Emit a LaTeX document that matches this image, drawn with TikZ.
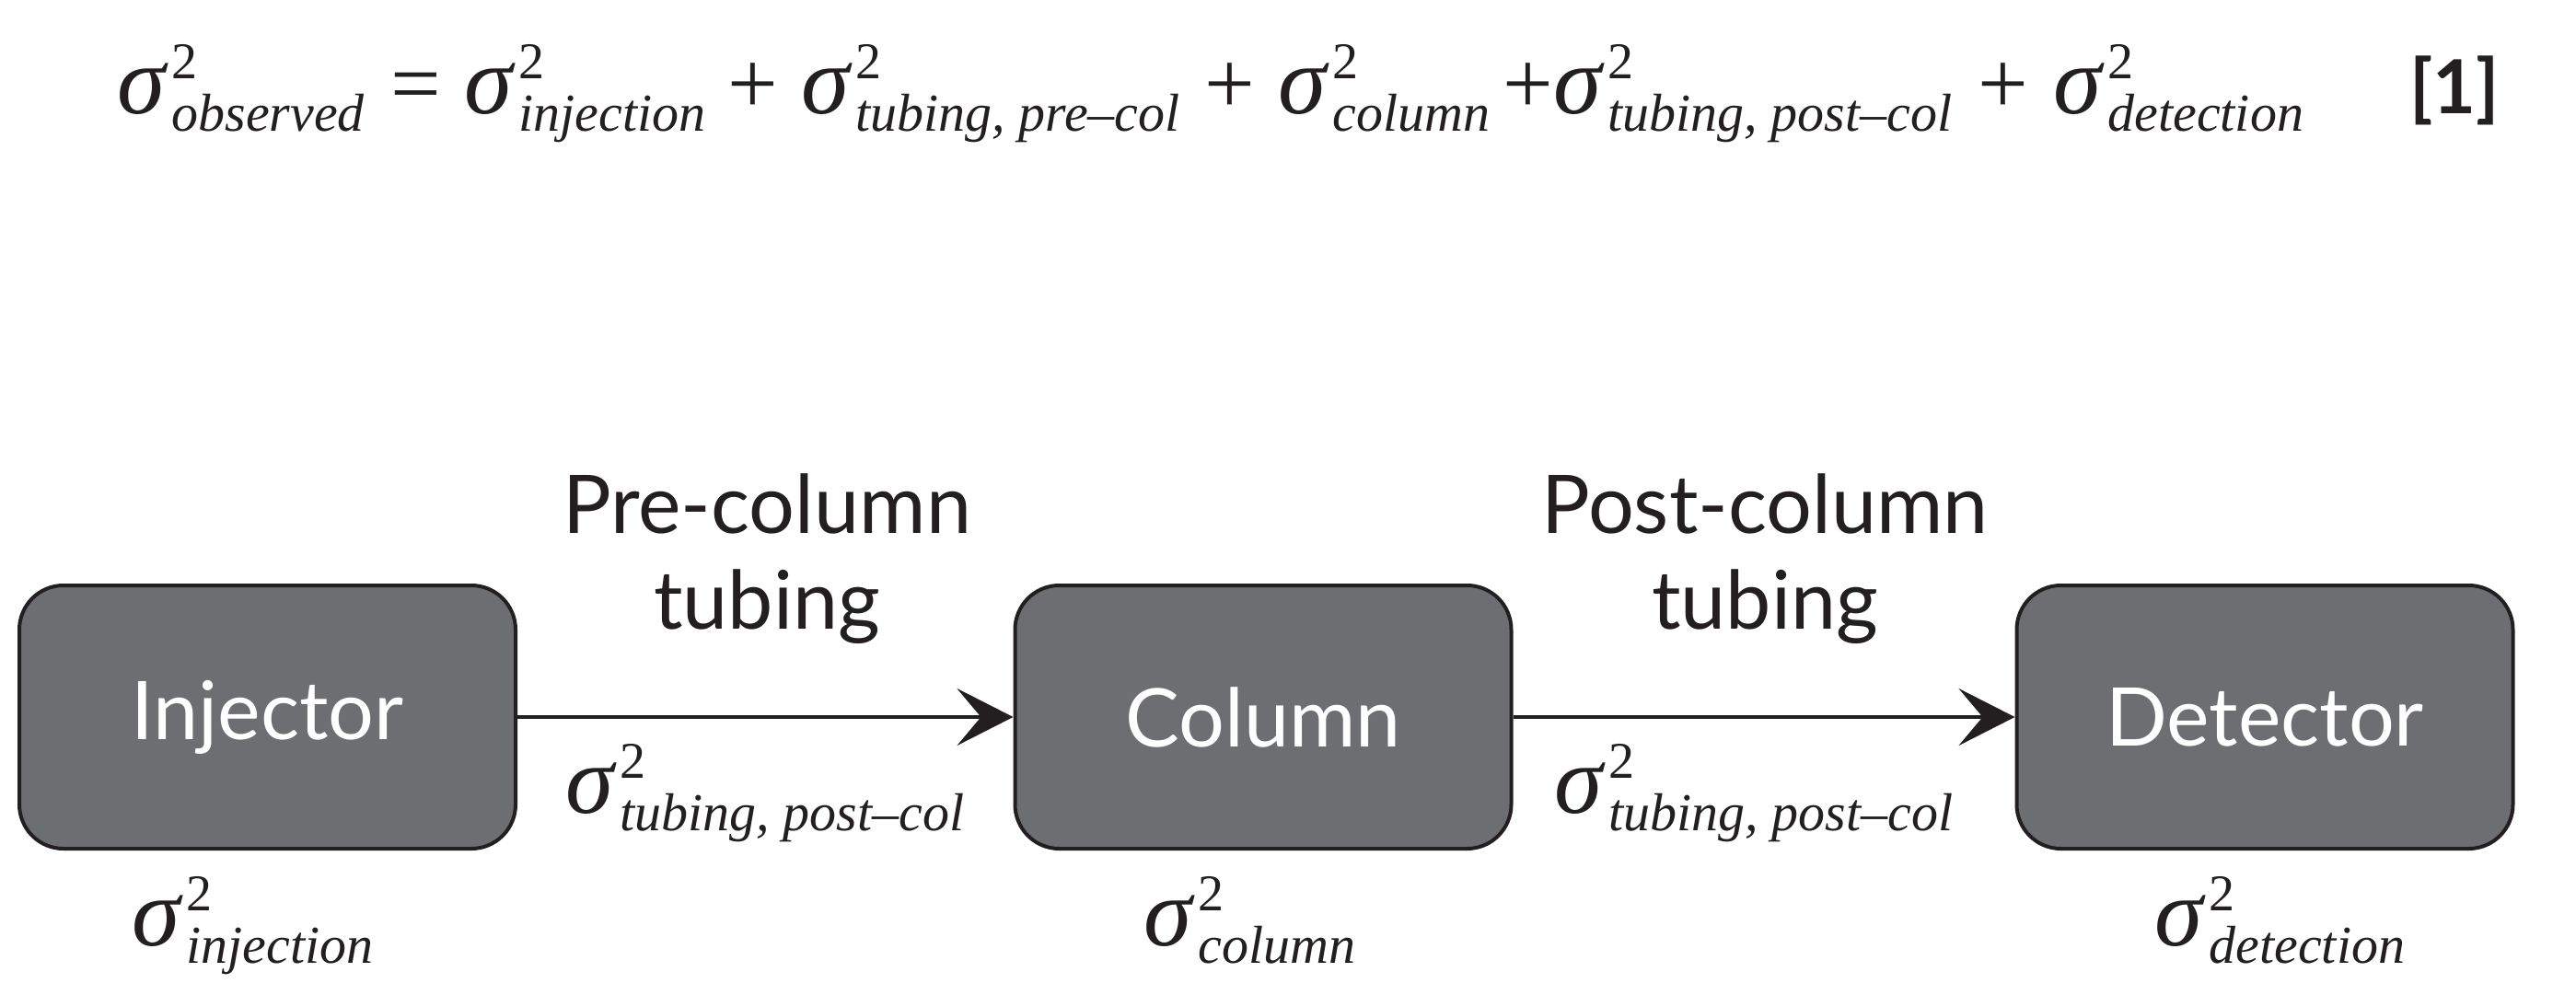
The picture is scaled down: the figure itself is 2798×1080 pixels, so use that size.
\documentclass[tikz,border=0pt]{standalone}
\usepackage{fontspec}
\setmainfont{Liberation Serif}
\newfontfamily\sansf{Lato}
\usetikzlibrary{arrows.meta}
\definecolor{boxgrey}{HTML}{6D6E71}
\definecolor{ink}{HTML}{231F20}
\newcommand\sig[1]{{\fontsize{106pt}{110pt}\selectfont\itshape σ}\kern7pt\rlap{\raisebox{38pt}{\fontsize{56pt}{60pt}\selectfont 2}}\raisebox{-19pt}{\fontsize{58pt}{60pt}\selectfont\itshape #1}}
\newcommand\opsym[1]{{\fontsize{97pt}{100pt}\selectfont #1}}
\begin{document}
\begin{tikzpicture}[x=1pt,y=-1pt,
  box/.style={draw=ink, line width=4pt, fill=boxgrey, rounded corners=48pt,
    minimum width=539pt, minimum height=286pt, inner sep=0pt, text=white,
    font=\sansf\fontsize{88pt}{100pt}\selectfont},
  tubelabel/.style={align=center, text=ink, inner sep=0pt,
    font=\sansf\fontsize{88pt}{104pt}\selectfont},
  siglabel/.style={anchor=base west, inner sep=0pt, text=ink},
  flow/.style={draw=ink, line width=4pt, -{Stealth[length=61pt,width=62pt,inset=26pt]}}]
\useasboundingbox[fill=white] (0,0) rectangle (2798,1080);

% equation
\node[siglabel] (eq) at (127,123) {%
  \makebox[297pt][l]{\sig{observed}}%
  \makebox[80pt][l]{\opsym{=}}%
  \makebox[286pt][l]{\sig{injection}}%
  \makebox[80pt][l]{\opsym{+}}%
  \makebox[438pt][l]{\sig{tubing, pre–col}}%
  \makebox[80pt][l]{\opsym{+}}%
  \makebox[244pt][l]{\sig{column}}%
  \makebox[55pt][l]{\opsym{+}}%
  \makebox[461pt][l]{\sig{tubing, post–col}}%
  \makebox[82pt][l]{\opsym{+}}%
  \makebox[387pt][l]{\sig{detection}}%
  {\sansf\bfseries\fontsize{81pt}{90pt}\selectfont [1]}};

% boxes
\node[box] (inj) at (290.5,779) {\raisebox{-16pt}{Injector}};
\node[box] (col) at (1372,779) {\raisebox{-16pt}{Column}};
\node[box] (det) at (2460,779) {\raisebox{-16pt}{Detector}};

% connectors
\draw[flow] (inj.east) -- (col.west);
\draw[flow] (col.east) -- (det.west);

% tubing labels (anchor at baseline of last line)
\node[tubelabel, anchor=base] (pre) at (833,683) {Pre-column\\tubing};
\node[tubelabel, anchor=base] (post) at (1917,683) {Post-column\\tubing};

% variance labels
\node[siglabel] (s1) at (614,883) {\sig{tubing, post–col}};
\node[siglabel] (s2) at (1688,883) {\sig{tubing, post–col}};
\node[siglabel] (s3) at (143,1027) {\sig{injection}};
\node[siglabel] (s4) at (1242,1027) {\sig{column}};
\node[siglabel] (s5) at (2340,1027) {\sig{detection}};
\end{tikzpicture}
\end{document}
